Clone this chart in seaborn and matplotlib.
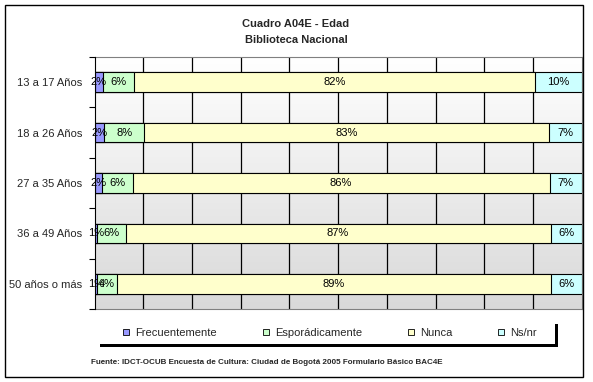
import matplotlib
matplotlib.use("Agg")
import numpy as np
import pandas as pd
import matplotlib.pyplot as plt
import seaborn as sns
from matplotlib.patches import Patch, Rectangle
from matplotlib.colors import LinearSegmentedColormap

# ---- data ----
categories = ["13 a 17 Años", "18 a 26 Años", "27 a 35 Años", "36 a 49 Años", "50 años o más"]
series = ["Frecuentemente", "Esporádicamente", "Nunca", "Ns/nr"]
frecuentemente = [1.8, 2.0, 1.5, 0.6, 0.6]
esporadicamente = [6.4, 8.2, 6.3, 5.8, 4.0]
nunca = [82.2, 83.0, 85.6, 87.2, 89.0]
nsnr = [9.6, 6.8, 6.6, 6.4, 6.4]
colors = ["#9999FF", "#CCFFCC", "#FFFFCC", "#CCFFFF"]
title_lines = ["Cuadro A04E - Edad", "Biblioteca Nacional"]
footer = "Fuente: IDCT-OCUB Encuesta de Cultura: Ciudad de Bogotá 2005 Formulario Básico BAC4E"

sns.set_theme(style="white")
plt.rcParams["font.family"] = ["Liberation Sans", "DejaVu Sans"]

W, H = 593, 382
fig = plt.figure(figsize=(W / 100, H / 100), dpi=100)
fig.patch.set_facecolor("white")

def fx(px):
    return px / W

def fy(py):
    return 1 - py / H

ax = fig.add_axes([fx(94.5), fy(309), fx(581.7) - fx(94.5), fy(57) - fy(309)])

df = pd.DataFrame({"Edad": categories, series[0]: frecuentemente, series[1]: esporadicamente,
                   series[2]: nunca, series[3]: nsnr})
vals = df[series].to_numpy()
cum = np.cumsum(vals, axis=1)

# background gradient
cmap = LinearSegmentedColormap.from_list("bg", ["#ffffff", "#d9d9d9"])
ax.imshow(np.linspace(0, 1, 256).reshape(-1, 1), cmap=cmap, extent=[0, 1, 0, 1],
          transform=ax.transAxes, aspect="auto", zorder=0)

for v in range(10, 100, 10):
    ax.axvline(v, color="black", lw=0.9, zorder=1)

for i in reversed(range(len(series))):
    d = pd.DataFrame({"Edad": categories, "v": cum[:, i]})
    sns.barplot(data=d, x="v", y="Edad", orient="h", color=colors[i], saturation=1,
                width=0.39, edgecolor="black", linewidth=0.8, ax=ax, zorder=3)

for r in range(len(categories)):
    start = 0
    for i in range(len(series)):
        v = vals[r, i]
        ax.text(start + v / 2, r, f"{v:.0f}%", ha="center", va="center", fontsize=8,
                color="black", zorder=5)
        start += v

ax.set_xlim(0, 100)
ax.set_ylim(len(categories) - 0.5, -0.5)
ax.set_xlabel("")
ax.set_ylabel("")
ax.set_xticks([])
ax.set_yticks(range(len(categories)))
ax.set_yticklabels(categories, fontsize=8)
ax.tick_params(axis="y", which="major", length=0, pad=9)
ax.set_yticks([i - 0.5 for i in range(len(categories) + 1)], minor=True)
ax.tick_params(axis="y", which="minor", length=4, width=0.8, color="black", direction="out", left=True)
for s in ["top", "right", "bottom"]:
    ax.spines[s].set_color("#808080")
    ax.spines[s].set_linewidth(0.8)
ax.spines["left"].set_color("black")
ax.spines["left"].set_linewidth(0.8)
ax.spines["left"].set_zorder(6)

# titles
fig.text(fx(296), fy(24), title_lines[0], ha="center", va="center", fontsize=8, fontweight="bold")
fig.text(fx(296), fy(40), title_lines[1], ha="center", va="center", fontsize=8, fontweight="bold")

# legend box with shadow
fig.patches.append(Rectangle((fx(100), fy(346.5)), fx(558) - fx(100), fy(324) - fy(346.5),
                             transform=fig.transFigure, facecolor="black", edgecolor="none", zorder=1))
fig.patches.append(Rectangle((fx(97), fy(343.5)), fx(555) - fx(97), fy(321) - fy(343.5),
                             transform=fig.transFigure, facecolor="white", edgecolor="none", zorder=2))
handles = [Patch(facecolor=c, edgecolor="black", lw=0.6, label=s) for c, s in zip(colors, series)]
leg = fig.legend(handles=handles, ncol=4, loc="center", bbox_to_anchor=(fx(330), fy(333)),
                 frameon=False, fontsize=8, handlelength=0.55, handleheight=0.55,
                 handletextpad=0.55, columnspacing=4.1, borderaxespad=0)
leg.set_zorder(5)

fig.text(fx(91), fy(362), footer, ha="left", va="center", fontsize=5.8, fontweight="bold")

# outer border
fig.patches.append(Rectangle((fx(5), fy(377)), fx(583) - fx(5), fy(5) - fy(377),
                             transform=fig.transFigure, facecolor="none", edgecolor="black", lw=1, zorder=10))

fig.savefig("out.png", dpi=100)
